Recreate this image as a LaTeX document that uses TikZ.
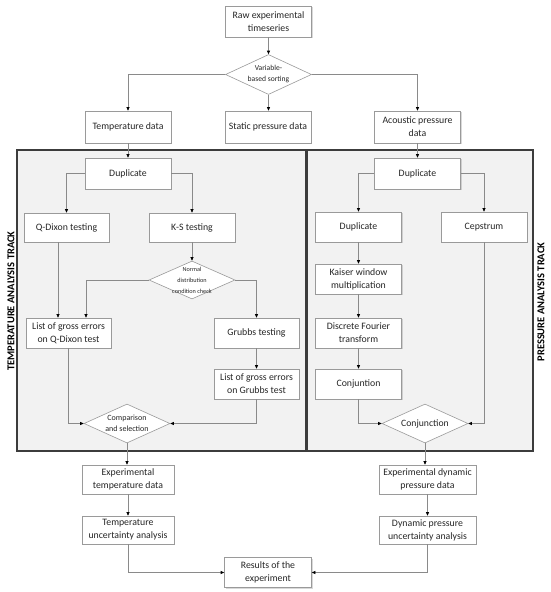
\documentclass[tikz,border=0pt]{standalone}
\usepackage{fontspec}
\setmainfont{Carlito}
\usetikzlibrary{shapes.geometric,arrows.meta,shadows,calc}
\definecolor{boxline}{HTML}{9A9A9A}
\definecolor{connc}{HTML}{8A8A8A}
\definecolor{panelfill}{HTML}{F2F2F2}
\definecolor{panelline}{HTML}{3C3C3C}
\definecolor{txt}{HTML}{262626}
\begin{document}
\begin{tikzpicture}[x=1pt,y=-1pt,
  box/.style={rectangle, draw=boxline, line width=0.6pt, fill=white, align=center, inner sep=1pt,
    text=txt, font=\fontsize{9.8}{13}\selectfont,
    drop shadow={shadow xshift=1.3pt, shadow yshift=-1.3pt, opacity=0.3},
    minimum width=86pt, minimum height=31pt},
  dia/.style={diamond, draw=boxline, line width=0.6pt, fill=white, inner sep=0pt,
    minimum width=86pt, minimum height=39pt},
  dtxt/.style={align=center, text=txt, inner sep=0pt},
  panel/.style={rectangle, draw=panelline, line width=1.1pt, fill=panelfill, inner sep=0pt},
  track/.style={rotate=90, text=black, font=\fontsize{10.5}{12}\selectfont\bfseries},
  conn/.style={draw=connc, line width=0.6pt, -{Triangle[length=3.5pt,width=3pt,color=black]}}]
\useasboundingbox (0,0) rectangle (550,592);

% panels
\node[panel, minimum width=289pt, minimum height=301pt] (lpanel) at (161.5,300.5) {};
\node[panel, minimum width=226pt, minimum height=301pt] (rpanel) at (420,300.5) {};
\node[track] (tl) at (11,301) {TEMPERATURE ANALYSIS TRACK};
\node[track] (tr) at (541,302) {PRESSURE ANALYSIS TRACK};

% top
\node[box] (raw) at (268.5,21.5) {Raw experimental\\timeseries};
\node[dia, minimum height=40pt] (sort) at (268.5,74.5) {};
\node[dtxt, font=\fontsize{7.6}{11}\selectfont] (sortt) at (sort.center) {Variable-\\based sorting};
\node[box, minimum height=32pt] (temp) at (128,127) {Temperature data};
\node[box, minimum height=32pt] (static) at (268,127) {Static pressure data};
\node[box, minimum height=32pt] (acou) at (417.5,127) {Acoustic pressure\\data};

% left panel
\node[box] (dup1) at (128,173.5) {Duplicate};
\node[box, minimum width=85pt, minimum height=29pt] (qdixon) at (66.5,227.5) {Q-Dixon testing};
\node[box, minimum height=29pt] (ks) at (192,227.5) {K-S testing};
\node[dia, minimum height=38pt] (nd) at (192,280) {};
\node[dtxt, font=\fontsize{6.2}{11}\selectfont] (ndt) at (nd.center) {Normal\\distribution\\condition check};
\node[box, minimum width=85pt, minimum height=30pt] (list1) at (68.5,333) {List of gross errors\\on Q-Dixon test};
\node[box, minimum width=85pt, minimum height=30pt] (grubbs) at (256.5,333) {Grubbs testing};
\node[box, minimum width=85pt, minimum height=30pt] (list2) at (256.5,384) {List of gross errors\\on Grubbs test};
\node[dia] (cmp) at (127,423.5) {};
\node[dtxt, font=\fontsize{8}{11.3}\selectfont] (cmpt) at (cmp.center) {Comparison\\and selection};

% right panel
\node[box] (dup2) at (417.5,173.5) {Duplicate};
\node[box, minimum height=30pt] (dup3) at (358.5,227) {Duplicate};
\node[box, minimum height=30pt] (ceps) at (484,227) {Cepstrum};
\node[box, minimum height=30pt] (kaiser) at (358.5,279) {Kaiser window\\multiplication};
\node[box, minimum height=30pt] (dft) at (358.5,333) {Discrete Fourier\\transform};
\node[box, minimum height=30pt] (conjn) at (358.5,384) {Conjuntion};
\node[dia] (conj) at (425,423.5) {};
\node[dtxt, font=\fontsize{9.7}{12}\selectfont] (conjt) at (conj.center) {Conjunction};

% bottom
\node[box, minimum width=92pt, minimum height=29pt] (exptemp) at (128,479.5) {Experimental\\temperature data};
\node[box, minimum width=92pt, minimum height=28pt] (tempunc) at (128,530) {Temperature\\uncertainty analysis};
\node[box, minimum width=87pt, minimum height=30pt] (results) at (268,572.5) {Results of the\\experiment};
\node[box, minimum width=97pt, minimum height=29pt] (expdyn) at (427.5,479.5) {Experimental dynamic\\pressure data};
\node[box, minimum width=97pt, minimum height=28pt] (dynunc) at (427.5,530) {Dynamic pressure\\uncertainty analysis};

% connectors
\draw[conn] (raw.south) -- (sort.north);
\draw[conn] (sort.west) -| (temp.north);
\draw[conn] (sort.south) -- (sort.south |- static.north);
\draw[conn] (sort.east) -| (acou.north);
\draw[conn] (temp.south) -- (dup1.north);
\draw[conn] (acou.south) -- (dup2.north);
\draw[conn] (dup1.west) -| (qdixon.north);
\draw[conn] (dup1.east) -| (ks.north);
\draw[conn] (ks.south) -- (nd.north);
\coordinate (l1b) at ($(list1.north)+(17.5,0)$);
\draw[conn] (nd.west) -| (l1b);
\coordinate (qdb) at ($(qdixon.south)+(-8.5,0)$);
\draw[conn] (qdb) -- (qdb |- list1.north);
\draw[conn] (nd.east) -| (grubbs.north);
\draw[conn] (grubbs.south) -- (list2.north);
\draw[conn] (list1.south) |- (cmp.west);
\draw[conn] (list2.south) |- (cmp.east);
\draw[conn] (cmp.south) -- (cmp.south |- exptemp.north);
\draw[conn] (exptemp.south) -- (tempunc.north);
\draw[conn] (tempunc.south) |- (results.west);
\draw[conn] (dup2.west) -| (dup3.north);
\draw[conn] (dup2.east) -| (ceps.north);
\draw[conn] (dup3.south) -- (kaiser.north);
\draw[conn] (kaiser.south) -- (dft.north);
\draw[conn] (dft.south) -- (conjn.north);
\draw[conn] (conjn.south) |- (conj.west);
\draw[conn] (ceps.south) |- (conj.east);
\draw[conn] (conj.south) -- (conj.south |- expdyn.north);
\draw[conn] (expdyn.south) -- (dynunc.north);
\draw[conn] (dynunc.south) |- (results.east);
\end{tikzpicture}
\end{document}
